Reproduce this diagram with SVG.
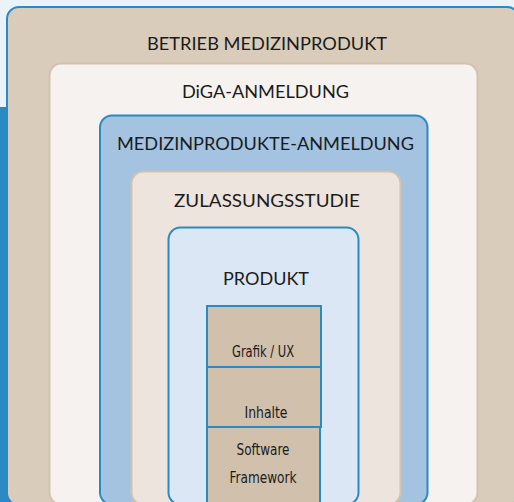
<svg xmlns="http://www.w3.org/2000/svg" width="514" height="502" viewBox="0 0 514 502">
<style>
.lbl{font-family:Lato,"Open Sans","Liberation Sans",sans-serif;font-size:17px;fill:#1b1b1b;text-anchor:middle}
.sm{font-family:"DejaVu Sans Condensed","Liberation Sans",sans-serif;font-size:16px;fill:#1b1b1b;text-anchor:middle}
.blue{stroke:#2a8bc4;stroke-width:2}
.tan{stroke:#d3c2ad;stroke-width:2}
.cell{fill:#d0c0ac;stroke:#2a8bc4;stroke-width:2}
</style>
<rect x="0" y="0" width="514" height="502" fill="#eaf2fa"/>
<rect x="0" y="107" width="20" height="395" fill="#2a8bc4"/>
<g id="betrieb">
<rect x="7" y="7" width="512" height="498" rx="12" fill="#d9ccbb" class="blue"/>
<text class="lbl" x="267" y="49.5" textLength="240" lengthAdjust="spacingAndGlyphs">BETRIEB MEDIZINPRODUKT</text>
</g>
<g id="diga">
<rect x="49.5" y="63.5" width="428" height="441" rx="12" fill="#f5f2ef" class="tan"/>
<text class="lbl" x="265.5" y="98" textLength="167" lengthAdjust="spacingAndGlyphs">DiGA-ANMELDUNG</text>
</g>
<g id="medizinprodukte">
<rect x="100" y="115.5" width="327.5" height="389" rx="12" fill="#a3c3e1" class="blue"/>
<text class="lbl" x="265.5" y="150" textLength="297" lengthAdjust="spacingAndGlyphs">MEDIZINPRODUKTE-ANMELDUNG</text>
</g>
<g id="zulassungsstudie">
<rect x="131.5" y="171.5" width="269" height="333" rx="12" fill="#ece4dd" class="tan"/>
<text class="lbl" x="267" y="207" textLength="186" lengthAdjust="spacingAndGlyphs">ZULASSUNGSSTUDIE</text>
</g>
<g id="produkt">
<rect x="168.5" y="227.5" width="190" height="277" rx="12" fill="#dbe7f4" class="blue"/>
<text class="lbl" x="266" y="284.5" textLength="86" lengthAdjust="spacingAndGlyphs">PRODUKT</text>
</g>
<g id="grafik">
<rect x="207" y="306" width="114" height="61" class="cell"/>
<text class="sm" x="263" y="356.5" textLength="62" lengthAdjust="spacingAndGlyphs">Grafik / UX</text>
</g>
<g id="inhalte">
<rect x="207" y="367" width="114" height="60" class="cell"/>
<text class="sm" x="266" y="418" textLength="43" lengthAdjust="spacingAndGlyphs">Inhalte</text>
</g>
<g id="software">
<rect x="207" y="427" width="113" height="80" class="cell"/>
<text class="sm" x="263" y="455" textLength="53" lengthAdjust="spacingAndGlyphs">Software</text>
<text class="sm" x="263" y="483" textLength="67" lengthAdjust="spacingAndGlyphs">Framework</text>
</g>
<g id="connectors"/>
</svg>
